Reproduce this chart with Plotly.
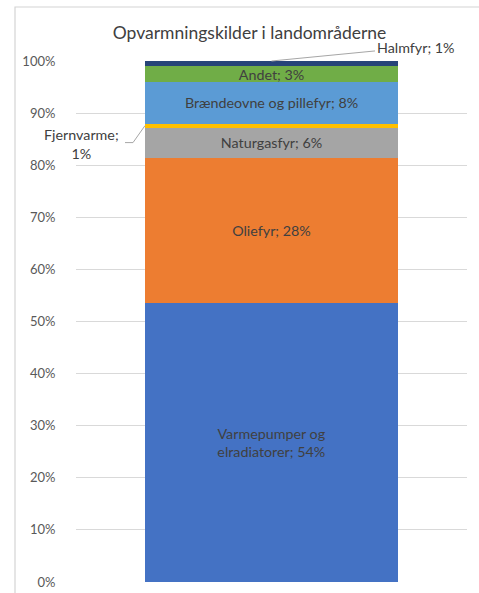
import plotly.graph_objects as go

# Data
categories = ["Varmepumper og elradiatorer", "Oliefyr", "Naturgasfyr", "Fjernvarme",
              "Brændeovne og pillefyr", "Andet", "Halmfyr"]
label_names = ["Varmepumper og<br>elradiatorer", "Oliefyr", "Naturgasfyr", "Fjernvarme",
               "Brændeovne og pillefyr", "Andet", "Halmfyr"]
values = [53.5, 27.9, 5.8, 0.8, 7.9, 3.1, 1.0]
shown_pct = [54, 28, 6, 1, 8, 3, 1]
colors = ["#4472C4", "#ED7D31", "#A5A5A5", "#FFC000", "#5B9BD5", "#70AD47", "#264478"]
outside = ["Fjernvarme", "Halmfyr"]
y_ticks = list(range(0, 101, 10))
y_tick_labels = [f"{t}%" for t in y_ticks]

FONT = "Lato, Calibri, Carlito, sans-serif"
TXT = "#404040"
BAR_W = 0.647
LBL = 14.3

fig = go.Figure()
for name, lab, v, p, c in zip(categories, label_names, values, shown_pct, colors):
    text = "" if name in outside else f"{lab}; {p}%"
    fig.add_trace(go.Bar(
        x=[0], y=[v], name=name, width=BAR_W,
        marker=dict(color=c, line=dict(width=0)),
        text=[text], textposition="inside", insidetextanchor="middle",
        textangle=0, textfont=dict(family=FONT, size=LBL, color=TXT),
        hoverinfo="name+y",
    ))

# cumulative positions for outside labels
cum = []
s = 0
for v in values:
    cum.append((s, s + v))
    s += v
fj = cum[categories.index("Fjernvarme")]
hm = cum[categories.index("Halmfyr")]
fj_mid = (fj[0] + fj[1]) / 2

# Halmfyr label with straight leader line
fig.add_annotation(
    x=0, y=hm[1], xref="x", yref="y",
    text="Halmfyr; 1%", showarrow=True, arrowhead=0, arrowwidth=1,
    arrowcolor="#A6A6A6", ax=144, ay=-14, standoff=0,
    font=dict(family=FONT, size=LBL, color=TXT),
)

# Fjernvarme label with elbow leader
fig.add_annotation(
    x=-BAR_W / 2, y=fj_mid, xref="x", yref="y",
    text="Fjernvarme;<br>1%", showarrow=False, align="center",
    xanchor="center", yanchor="middle", xshift=-64, yshift=-18,
    font=dict(family=FONT, size=LBL, color=TXT),
)
fig.add_shape(
    type="path", xref="x", yref="y",
    xsizemode="pixel", ysizemode="pixel",
    xanchor=-BAR_W / 2, yanchor=fj_mid,
    path="M 0 0 L -12 -17 L -20 -17",
    line=dict(color="#A6A6A6", width=1),
)

# outer chart-area frame
fig.add_shape(
    type="rect", xref="paper", yref="paper",
    x0=-0.156, x1=1.04, y0=-0.06, y1=1.1036,
    line=dict(color="#D4D4D4", width=1.2), layer="above",
)

fig.update_layout(
    barmode="stack",
    width=479, height=593,
    margin=dict(l=76, r=12, t=61, b=11, autoexpand=False),
    paper_bgcolor="white", plot_bgcolor="white",
    showlegend=False,
    title=dict(text="Opvarmningskilder i landområderne",
               font=dict(family=FONT, size=17.5, color=TXT),
               x=0.521, xanchor="center", xref="container",
               y=1 - 33 / 593, yanchor="middle", yref="container"),
    uniformtext=dict(minsize=LBL, mode="show"),
    xaxis=dict(range=[-0.5, 0.5], showticklabels=False, showgrid=False,
               zeroline=False, showline=False, fixedrange=True),
    yaxis=dict(range=[0, 100], tickvals=y_ticks, ticktext=y_tick_labels,
               showgrid=True, gridcolor="#D9D9D9", gridwidth=1,
               zeroline=False, showline=False,
               ticks="outside", ticklen=17, tickcolor="rgba(0,0,0,0)",
               tickfont=dict(family=FONT, size=13, color="#595959")),
)

fig.write_html("out.html", config={"displayModeBar": False},
               post_script="document.body.style.margin='0';document.body.style.overflow='hidden';")
